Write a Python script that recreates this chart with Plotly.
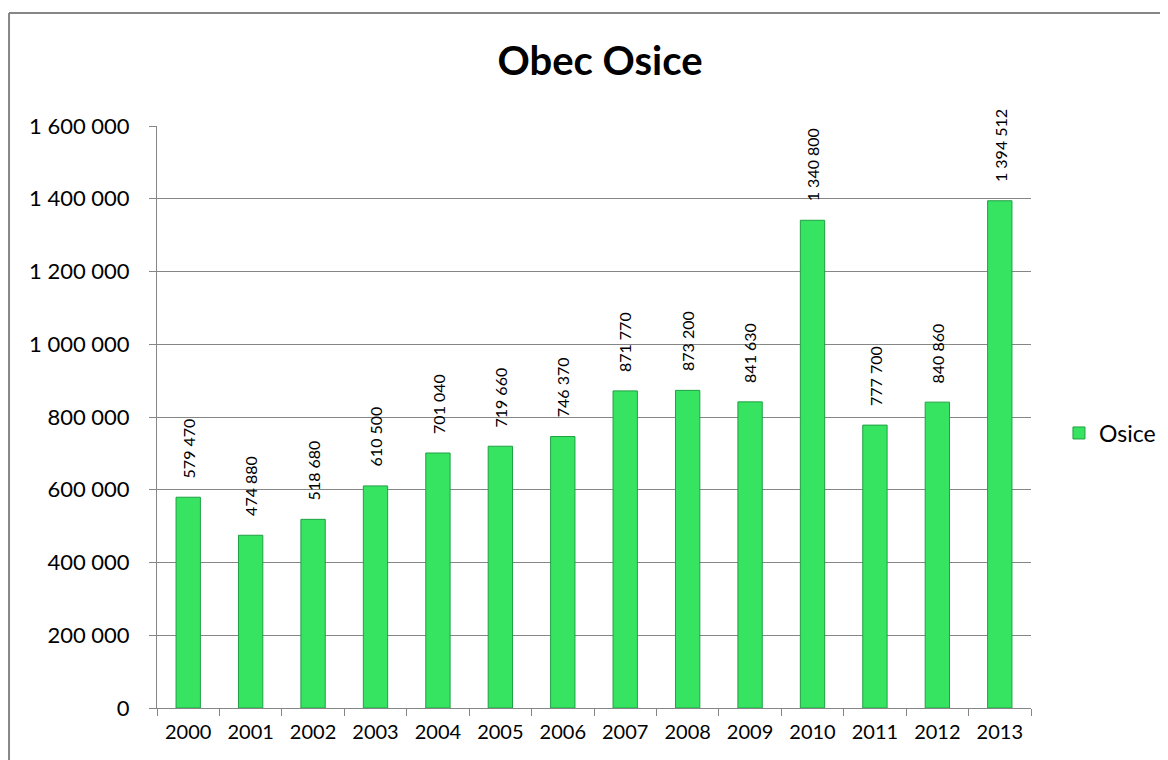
import plotly.graph_objects as go

ROKY = ['2000', '2001', '2002', '2003', '2004', '2005', '2006',
        '2007', '2008', '2009', '2010', '2011', '2012', '2013']
HODNOTY = [579470, 474880, 518680, 610500, 701040, 719660, 746370,
           871770, 873200, 841630, 1340800, 777700, 840860, 1394512]
Y_TICKY = [0, 200000, 400000, 600000, 800000, 1000000, 1200000, 1400000, 1600000]

FONT = "Lato"
SEDA = "#868686"
ZELENA = "#36E461"
ZELENA_OKRAJ = "#1FA043"


def popisek(v):
    return f"{v:,}".replace(",", " ")


fig = go.Figure()
fig.add_trace(go.Bar(
    x=ROKY, y=HODNOTY, name='Osice',
    marker=dict(color=ZELENA, line=dict(color=ZELENA_OKRAJ, width=1)),
))

# popisky hodnot nad sloupci, otočené o 90°
# (x jako index kategorie - "2000" by se jinak bral jako číslo)
for i, v in enumerate(HODNOTY):
    fig.add_annotation(x=i, y=v, text=popisek(v), textangle=-90,
                       showarrow=False, yanchor='bottom', yshift=17,
                       font=dict(family=FONT, size=16, color='black'))

# rámeček grafu (jen levá a horní hrana jsou vidět)
fig.add_shape(type='line', xref='paper', yref='paper',
              x0=-0.1693, x1=-0.1693, y0=-0.2, y1=1.1942,
              line=dict(color=SEDA, width=2))
fig.add_shape(type='line', xref='paper', yref='paper',
              x0=-0.1693, x1=1.3, y0=1.1942, y1=1.1942,
              line=dict(color=SEDA, width=2))

fig.update_layout(
    width=1168, height=760,
    margin=dict(l=149, r=145, t=118, b=60, autoexpand=False),
    paper_bgcolor='white', plot_bgcolor='white',
    font=dict(family=FONT, size=20, color='black'),
    title=dict(text='<b>Obec Osice</b>', x=592 / 1168, xanchor='center',
               y=1 - 53 / 760, yanchor='middle', xref='container', yref='container',
               font=dict(family=FONT, size=40, color='black')),
    bargap=0.61,
    showlegend=True,
    legend=dict(x=1.032, y=0.4725, xanchor='left', yanchor='middle',
                itemwidth=30,
                font=dict(family=FONT, size=23), bgcolor='rgba(0,0,0,0)'),
)
fig.update_xaxes(type='category', automargin=False, tickangle=0,
                 showline=True, linecolor=SEDA, linewidth=1,
                 ticks='outside', tickson='boundaries', ticklen=7, tickcolor=SEDA,
                 ticklabelstandoff=6,
                 showgrid=False, tickfont=dict(size=20))
fig.update_yaxes(range=[0, 1600000], tickvals=Y_TICKY,
                 ticktext=[popisek(t) for t in Y_TICKY],
                 automargin=False,
                 showline=True, linecolor=SEDA, linewidth=1,
                 ticks='outside', ticklen=7, tickcolor=SEDA,
                 ticklabelstandoff=15,
                 showgrid=True, gridcolor=SEDA, gridwidth=1,
                 zeroline=False, tickfont=dict(size=22))

fig.write_html("out.html")
